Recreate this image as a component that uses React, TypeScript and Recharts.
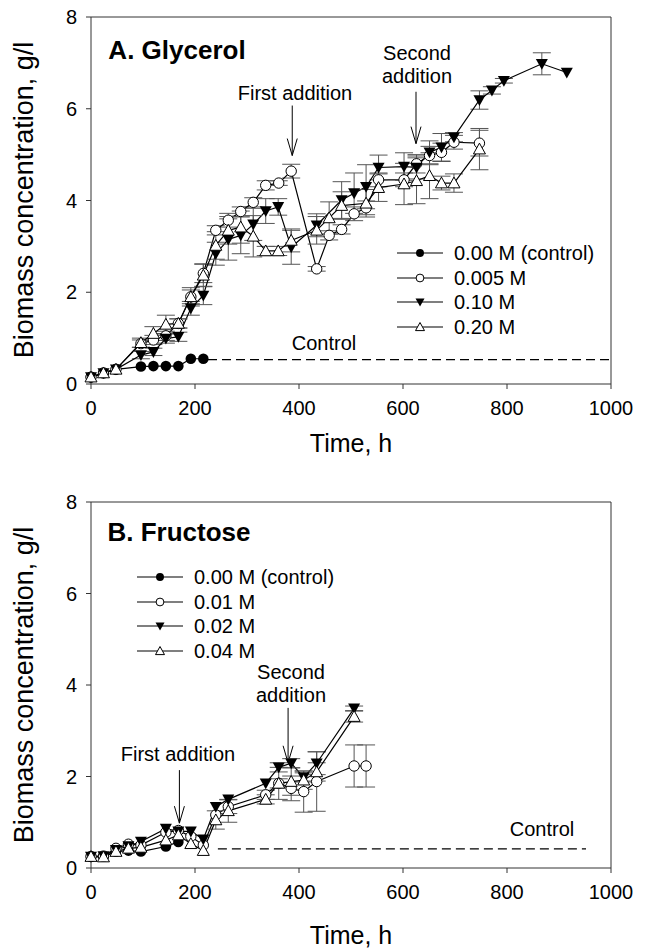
import React from "react";
import {
  LineChart,
  Line,
  XAxis,
  YAxis,
  ErrorBar,
  ReferenceLine,
} from "recharts";

// [time h, biomass g/l, error]
const glyControl = [[0, 0.15], [24, 0.24], [48, 0.32], [96, 0.38], [120, 0.39], [144, 0.39], [168, 0.39], [192, 0.55], [216, 0.55]];
const gly005 = [[0, 0.15], [24, 0.24], [48, 0.32], [96, 0.88, 0.08], [120, 0.96, 0.1], [144, 1.05, 0.1], [168, 1.32, 0.1], [192, 1.9, 0.15], [216, 2.41, 0.2], [240, 3.35, 0.1], [264, 3.57, 0.15], [288, 3.76, 0.1], [312, 3.96, 0.1], [336, 4.33, 0.1], [361, 4.38, 0.05], [385, 4.64, 0.15], [434, 2.51, 0.05], [458, 3.24, 0.1], [482, 3.37, 0.1], [506, 3.71, 0.15], [529, 3.84, 0.15], [553, 4.45, 0.15], [602, 4.45, 0.15], [626, 4.8, 0.2], [651, 4.98, 0.2], [674, 5.05, 0.2], [698, 5.27, 0.15], [747, 5.25, 0.28]];
const gly010 = [[0, 0.15], [24, 0.24], [48, 0.32], [96, 0.63, 0.08], [120, 0.7, 0.08], [144, 0.99, 0.1], [168, 1.03, 0.1], [192, 1.65, 0.15], [216, 1.93, 0.2], [240, 2.84, 0.25], [264, 3.15, 0.45], [288, 3.24, 0.4], [312, 3.48, 0.35], [336, 3.77, 0.27], [360, 3.86, 0.18], [385, 2.98, 0.37], [434, 3.46, 0.25], [482, 4.01, 0.4], [506, 4.16, 0.44], [529, 4.3, 0.48], [553, 4.72, 0.27], [602, 4.74, 0.3], [626, 4.72, 0.25], [651, 5.05, 0.25], [674, 5.16, 0.3], [698, 5.38, 0.1], [747, 6.19, 0.2], [771, 6.4, 0.08], [794, 6.61, 0.05], [867, 6.98, 0.24], [915, 6.79]];
const gly020 = [[0, 0.15], [24, 0.24], [48, 0.32], [96, 0.9, 0.1], [120, 1.1, 0.15], [144, 1.3, 0.2], [168, 1.32, 0.1], [192, 1.9, 0.2], [216, 2.37, 0.25], [240, 3.02, 0.3], [264, 3.35, 0.3], [288, 3.42, 0.35], [312, 3.22, 0.45], [336, 2.9, 0.1], [360, 2.9, 0.1], [385, 3.13, 0.25], [434, 3.35, 0.3], [458, 3.62, 0.35], [482, 3.89, 0.3], [529, 3.94, 0.3], [553, 4.28, 0.3], [602, 4.36, 0.45], [626, 4.43, 0.5], [651, 4.54, 0.5], [674, 4.38, 0.15], [698, 4.38, 0.2], [747, 5.12, 0.45]];

const fruControl = [[0, 0.25], [24, 0.25], [48, 0.36], [72, 0.38], [96, 0.36], [144, 0.47], [168, 0.57]];
const fru001 = [[0, 0.25], [24, 0.26], [48, 0.43], [72, 0.52], [96, 0.5], [144, 0.78], [168, 0.82], [192, 0.69], [216, 0.5], [240, 1.16], [264, 1.34, 0.15], [336, 1.6, 0.1], [361, 1.85, 0.1], [385, 1.74, 0.27], [409, 1.67, 0.45], [434, 1.89, 0.65], [506, 2.23, 0.46], [529, 2.23, 0.46]];
const fru002 = [[0, 0.25], [24, 0.26], [48, 0.4], [72, 0.48], [96, 0.58], [144, 0.86], [168, 0.8], [192, 0.8], [216, 0.63], [240, 1.34], [264, 1.5], [336, 1.85], [361, 2.2, 0.1], [385, 2.29, 0.1], [409, 1.98, 0.1], [434, 2.29, 0.25], [506, 3.49, 0.05]];
const fru004 = [[0, 0.25], [24, 0.24], [48, 0.36], [72, 0.43], [96, 0.45], [144, 0.61], [168, 0.72], [192, 0.53], [216, 0.38], [240, 1.05, 0.2], [264, 1.25, 0.25], [336, 1.5, 0.1], [361, 1.85, 0.35], [385, 1.89, 0.3], [409, 1.92, 0.2], [434, 2.1, 0.2], [506, 3.31, 0.12]];

const glyLabels = ["0.00 M (control)", "0.005 M", "0.10 M", "0.20 M"];
const fruLabels = ["0.00 M (control)", "0.01 M", "0.02 M", "0.04 M"];
const xTicks = [0, 200, 400, 600, 800, 1000];
const yTicks = [0, 2, 4, 6, 8];

const FONT = "'Liberation Sans', Arial, sans-serif";
const AX = "#333";
const kinds = ["filled", "open", "down", "up"];

const toRows = (arr: number[][]) => arr.map(([t, v, e]) => ({ t, v, e: e ?? 0 }));

function Marker({ cx, cy, kind, s = 1 }: any) {
  if (cx == null || cy == null) return null;
  if (kind === "filled") return <circle cx={cx} cy={cy} r={5.3 * s} fill="#000" />;
  if (kind === "open") return <circle cx={cx} cy={cy} r={5.2 * s} fill="#fff" stroke="#000" strokeWidth={1} />;
  const h = 6 * s;
  if (kind === "down")
    return <polygon points={`${cx - h},${cy - h * 0.8} ${cx + h},${cy - h * 0.8} ${cx},${cy + h}`} fill="#000" />;
  return <polygon points={`${cx - h},${cy + h * 0.8} ${cx + h},${cy + h * 0.8} ${cx},${cy - h}`} fill="#fff" stroke="#000" strokeWidth={1} />;
}

const Arrow = (p: any) => {
  const { x1, y1, x2, y2 } = p;
  return (
    <g>
      <line x1={x1} y1={y1} x2={x2} y2={y2} stroke="#000" strokeWidth={1} />
      <polyline points={`${x2 - 5},${y2 - 17} ${x2},${y2} ${x2 + 5},${y2 - 17}`} fill="none" stroke="#000" strokeWidth={1} />
    </g>
  );
};

function Panel({ series, top, height, mTop, xh, arrows, ctrl }: any) {
  return (
    <div style={{ position: "absolute", left: 0, top }}>
      <LineChart width={653} height={height} margin={{ top: mTop, right: 42, left: 0, bottom: 0 }}>
        <XAxis
          type="number"
          dataKey="t"
          domain={[0, 1000]}
          ticks={xTicks}
          height={xh}
          tickSize={5}
          tickMargin={12}
          stroke={AX}
          tick={{ fontSize: 20, fill: "#000", fontFamily: FONT }}
          allowDuplicatedCategory={false}
        />
        <YAxis
          type="number"
          domain={[0, 8]}
          ticks={yTicks}
          width={91}
          tickSize={5}
          tickMargin={9}
          stroke={AX}
          tick={{ fontSize: 20, fill: "#000", fontFamily: FONT }}
        />
        <ReferenceLine y={8} stroke={AX} />
        <ReferenceLine x={1000} stroke={AX} />
        <ReferenceLine
          segment={[{ x: ctrl[0], y: ctrl[2] }, { x: ctrl[1], y: ctrl[2] }]}
          stroke="#000"
          strokeDasharray="9 5"
          strokeWidth={1.2}
        />
        {arrows.map((a: number[], i: number) => (
          <ReferenceLine key={i} segment={[{ x: a[0], y: a[1] }, { x: a[0], y: a[2] }]} shape={Arrow} />
        ))}
        {series.map((s: number[][], i: number) => (
          <Line
            key={i}
            data={toRows(s)}
            dataKey="v"
            stroke="#000"
            strokeWidth={1.2}
            isAnimationActive={false}
            dot={(p: any) => <Marker key={p.index} cx={p.cx} cy={p.cy} kind={kinds[i]} />}
            activeDot={false}
          >
            <ErrorBar dataKey="e" direction="y" width={9} stroke="#555" strokeWidth={1} />
          </Line>
        ))}
      </LineChart>
    </div>
  );
}

const txt = (s: string, x: number, y: number, size = 20, extra: any = {}) => (
  <div
    key={s + x + y}
    style={{
      position: "absolute",
      left: x,
      top: y,
      transform: "translate(-50%,-50%)",
      fontSize: size,
      lineHeight: 1,
      whiteSpace: "nowrap",
      fontFamily: FONT,
      color: "#000",
      ...extra,
    }}
  >
    {s}
  </div>
);

function LegendBox({ labels, left, top }: any) {
  return (
    <div style={{ position: "absolute", left, top, fontFamily: FONT, fontSize: 20 }}>
      {labels.map((l: string, i: number) => (
        <div key={l} style={{ display: "flex", alignItems: "center", height: 24.5 }}>
          <svg width={57} height={20}>
            <line x1={0} y1={10} x2={46} y2={10} stroke="#000" strokeWidth={1.2} />
            <Marker cx={23} cy={10} kind={kinds[i]} s={0.75} />
          </svg>
          <span style={{ lineHeight: 1 }}>{l}</span>
        </div>
      ))}
    </div>
  );
}

export default function App() {
  return (
    <div style={{ position: "absolute", left: 0, top: 0, width: 653, height: 952, background: "#fff", fontFamily: FONT }}>
      <Panel
        series={[glyControl, gly005, gly010, gly020]}
        top={0}
        height={476}
        mTop={17}
        xh={92}
        ctrl={[225, 1000, 0.53]}
        arrows={[[387, 6.07, 4.98], [625, 6.37, 5.24]]}
      />
      <Panel
        series={[fruControl, fru001, fru002, fru004]}
        top={476}
        height={476}
        mTop={26}
        xh={84}
        ctrl={[244, 952, 0.42]}
        arrows={[[170, 2.14, 0.98], [379, 3.5, 2.3]]}
      />
      {txt("A. Glycerol", 177, 50, 26, { fontWeight: "bold" })}
      {txt("First addition", 295, 93)}
      {txt("Second", 417, 53)}
      {txt("addition", 417, 76)}
      {txt("Control", 324, 343)}
      <LegendBox labels={glyLabels} left={397} top={241} />
      {txt("B. Fructose", 179, 532, 26, { fontWeight: "bold" })}
      <LegendBox labels={fruLabels} left={137} top={565} />
      {txt("First addition", 178, 754)}
      {txt("Second", 291, 672)}
      {txt("addition", 291, 695)}
      {txt("Control", 542, 829)}
      {txt("Biomass concentration, g/l", 24, 200, 27, { transform: "translate(-50%,-50%) rotate(-90deg)" })}
      {txt("Biomass concentration, g/l", 24, 685, 27, { transform: "translate(-50%,-50%) rotate(-90deg)" })}
      {txt("Time, h", 351, 443, 25)}
      {txt("Time, h", 351, 935, 25)}
    </div>
  );
}
